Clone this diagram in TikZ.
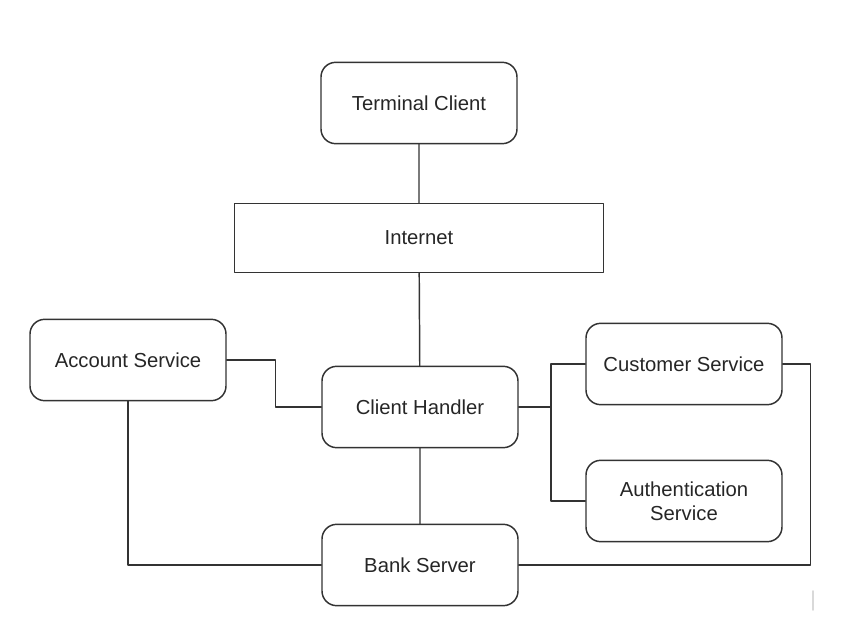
\documentclass[tikz,border=0pt]{standalone}
\usepackage{fontspec}
\setmainfont{Liberation Sans}
\usepackage{tikz}
\usetikzlibrary{arrows.meta}
\definecolor{edge}{HTML}{333333}
\tikzset{
  every picture/.style={line join=round, line cap=round, >=Stealth},
  box/.style={draw=edge, line width=1.1pt, rounded corners=11pt, minimum width=147pt, minimum height=61pt, align=center, text=black!85, font=\fontsize{15.2}{18.2}\selectfont},
  net/.style={draw=edge, line width=1.1pt, minimum width=277pt, minimum height=52pt, text=black!85, font=\fontsize{15.2}{18.2}\selectfont},
  wire/.style={draw=edge, line width=1.1pt},
}

\begin{document}
\begin{tikzpicture}[x=0.75pt,y=-0.75pt]
\useasboundingbox (0,0) rectangle (844,643);
\node[box](term) at (419,103) {Terminal Client};
\node[net](inet) at (419,238) {Internet};
\node[box](acct) at (128,360) {Account Service};
\node[box](handler) at (420,407) {Client Handler};
\node[box](cust) at (684,364) {Customer Service};
\node[box](auth) at (684,501) {Authentication\\Service};
\node[box](bank) at (420,565) {Bank Server};
\coordinate (bus) at (551,407);
\draw[wire](term)--(inet)
(inet)--(handler)
(handler)--(bank);
\draw[wire](acct.east)--++(49,0)|-(handler.west);
\draw[wire](handler.east)--(bus)
(cust.west)-|(bus)|-(auth.west);
\draw[wire](acct.south)|-(bank.west);
\draw[wire](cust.east)--++(28,0)|-(bank.east);
\draw[black!15, line width=1.2pt](813,591)--(813,610);
\end{tikzpicture}
\end{document}
